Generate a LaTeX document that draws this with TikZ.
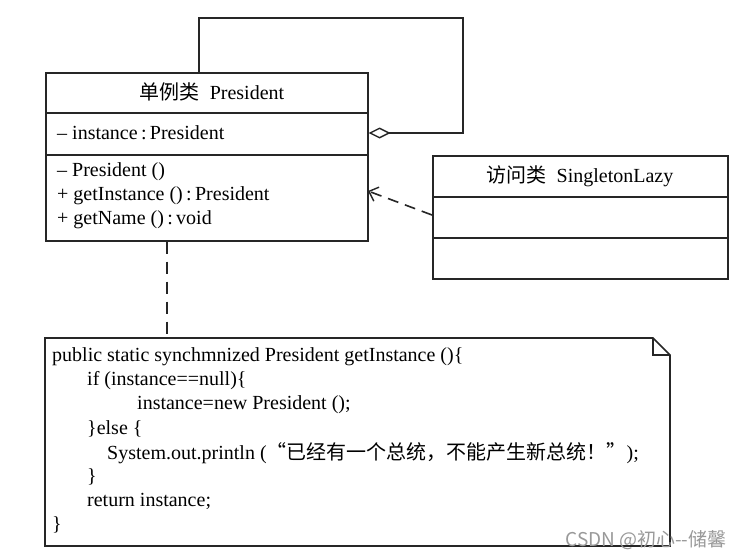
\documentclass[tikz,border=0pt]{standalone}
\usepackage{fontspec}
\setmainfont{Liberation Serif}
\newfontfamily\cjk{Noto Sans CJK SC}
\usetikzlibrary{arrows.meta,positioning}

\tikzset{
  umlline/.style={draw=black!85,line width=1.6pt},
  classbox/.style={umlline,anchor=north west,inner sep=0pt},
  member/.style={anchor=west,inner sep=0pt,font=\fontsize{20}{24}\selectfont},
  classname/.style={inner sep=0pt,font=\fontsize{20}{24}\selectfont},
  codeline/.style={anchor=west,inner sep=0pt,font=\fontsize{20}{24}\selectfont}
}

\begin{document}
\begin{tikzpicture}[x=1pt,y=-1pt]
  \useasboundingbox[fill=white] (0,0) rectangle (743,557);
  % class President
  \node[classbox,minimum width=322pt,minimum height=168pt] (pres) at (45,72) {};
  \draw[umlline] (45,113) -- (367,113);
  \draw[umlline] (45,155) -- (367,155);
  \node[classname] (presname) at (212,92) {{\cjk 单例类}\ \ President};
  \node[member] (presattr) at (57,133) {\textendash\ instance\,:\,President};
  \node[member] (presctor) at (57,172) {\textendash\ President ()};
  \node[member] (presget) at (57,196) {+ getInstance ()\,:\,President};
  \node[member] (presname2) at (57,220) {+ getName ()\,:\,void};
  % class SingletonLazy
  \node[classbox,minimum width=295pt,minimum height=123pt] (lazy) at (432,155) {};
  \draw[umlline] (432,197) -- (727,197);
  \draw[umlline] (432,238) -- (727,238);
  \node[classname] (lazyname) at (580,176) {{\cjk 访问类}\ \ SingletonLazy};
  % self aggregation
  \coordinate (loopstart) at (199,72);
  \coordinate (loopcorner) at (463,18);
  \draw[umlline,-{Diamond[open,length=22pt,width=11pt,line width=1.4pt]}]
    (loopstart) |- (loopcorner) |- (pres.east |- presattr);
  % dependency
  \coordinate (depfrom) at (432,215);
  \coordinate (depto) at (368,191);
  \draw[umlline,dash pattern=on 11pt off 7pt,-{Straight Barb[length=8pt,width=15pt,line width=1.4pt]}]
    (depfrom) -- (depto);
  % note
  \draw[umlline] (45,338) -- (653,338) -- (670,355) -- (670,546) -- (45,546) -- cycle;
  \draw[umlline] (653,338) |- (670,355);
  \coordinate (notetop) at (167,338);
  \draw[umlline,dash pattern=on 12pt off 8pt] (pres.south -| notetop) -- (notetop);
  \node[codeline] (c1) at (52,357) {public static synchmnized President getInstance ()\{};
  \node[codeline] (c2) at (87,381) {if (instance==null)\{};
  \node[codeline] (c3) at (137,405) {instance=new President ();};
  \node[codeline] (c4) at (87,429) {\}else \{};
  \node[codeline] (c5) at (107,453) {System.out.println ({\cjk “已经有一个总统，不能产生新总统！”});};
  \node[codeline] (c6) at (87,477) {\}};
  \node[codeline] (c7) at (87,501) {return instance;};
  \node[codeline] (c8) at (52,525) {\}};
  % watermark
  \node[font=\cjk\fontsize{19}{22}\selectfont,text=black!40] (mark) at (646,540) {CSDN @初心--储馨};
\end{tikzpicture}
\end{document}
